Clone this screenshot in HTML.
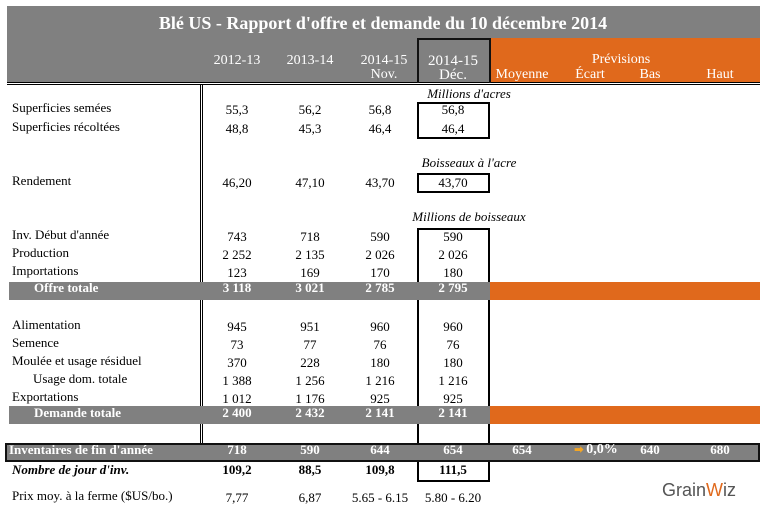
<!DOCTYPE html>
<html><head><meta charset="utf-8">
<style>
body{margin:0;width:760px;height:506px;background:#fff;position:relative;overflow:hidden;font-family:"Liberation Serif",serif;font-size:13px;color:#000}
.a{position:absolute}
.t{position:absolute;white-space:nowrap;line-height:16px;height:16px}
.c{transform:translateX(-50%)}
.w{color:#fff;font-weight:bold}
.i{font-style:italic}
</style></head><body>
<div class="a" style="left:7px;top:6px;width:753px;height:32px;background:#808080"></div>
<div class="t c w" style="left:383px;top:13px;font-size:18px;line-height:20px;height:20px">Blé US - Rapport d'offre et demande du 10 décembre 2014</div>
<div class="a" style="left:7px;top:38px;width:483px;height:45px;background:#808080"></div>
<div class="a" style="left:490px;top:38px;width:270px;height:45px;background:#e0691c"></div>
<div class="a" style="left:7px;top:82px;width:753px;height:1px;border-top:1px solid #000;border-bottom:1px solid #000"></div>
<div class="a" style="left:200px;top:85px;width:1px;height:358px;border-left:1px solid #000;border-right:1px solid #000"></div>
<div class="a" style="left:417px;top:38px;width:70px;height:43px;border:2px solid #111;border-bottom:none"></div>
<div class="a" style="left:417px;top:102px;width:69px;height:33px;border:2px solid #000"></div>
<div class="a" style="left:417px;top:173px;width:69px;height:16px;border:2px solid #000"></div>
<div class="a" style="left:417px;top:228px;width:69px;height:250px;border:2px solid #000;border-bottom:2px solid #000"></div>
<div class="a" style="left:9px;top:282px;width:481px;height:18px;background:#808080"></div>
<div class="a" style="left:490px;top:282px;width:270px;height:18px;background:#e0691c"></div>
<div class="a" style="left:9px;top:406px;width:481px;height:18px;background:#808080"></div>
<div class="a" style="left:490px;top:406px;width:270px;height:18px;background:#e0691c"></div>
<div class="a" style="left:5px;top:443px;width:751px;height:15px;background:#808080;border:2px solid #111"></div>
<div class="t w" style="left:662px;top:480px;font-family:'Liberation Sans',sans-serif;font-size:18px;line-height:20px;height:20px;color:#555;font-weight:normal">Grain<span style="color:#e0691c">W</span>iz</div>
<div id="root"></div>
<script>
const colX=[237,310,380,453,522,590,650,720];
const headers=[["2012-13",0,53],["2013-14",1,53],["2014-15",2,53],["Nov.",2,67],["2014-15",3,53],["Déc.",3,67],["Moyenne",4,67],["Écart",5,67],["Bas",6,67],["Haut",7,67]];
const rowLabels=["Superficies semées","Superficies récoltées","Rendement","Inv. Début d'année","Production","Importations","Offre totale","Alimentation","Semence","Moulée et usage résiduel","Usage dom. totale","Exportations","Demande totale","Inventaires de fin d'année","Nombre de jour d'inv.","Prix moy. à la ferme ($US/bo.)"];
const rowY=[100,119,173,227,245,263,280,317,335,353,371,389,405,442,462,488];
const rowVals=[["55,3","56,2","56,8","56,8"],["48,8","45,3","46,4","46,4"],["46,20","47,10","43,70","43,70"],["743","718","590","590"],["2 252","2 135","2 026","2 026"],["123","169","170","180"],["3 118","3 021","2 785","2 795"],["945","951","960","960"],["73","77","76","76"],["370","228","180","180"],["1 388","1 256","1 216","1 216"],["1 012","1 176","925","925"],["2 400","2 432","2 141","2 141"],["718","590","644","654","654","","640","680"],["109,2","88,5","109,8","111,5"],["7,77","6,87","5.65 - 6.15","5.80 - 6.20"]];
const units=[["Millions d'acres",86],["Boisseaux à l'acre",155],["Millions de boisseaux",209]];
const root=document.body;
function txt(s,x,y,cls){const d=document.createElement('div');d.className='t '+cls;d.textContent=s;d.style.left=x+'px';d.style.top=y+'px';root.appendChild(d);return d;}
headers.forEach(h=>{const d=txt(h[0],colX[h[1]]+(h[1]==2?4:0),h[2],'c');d.style.color='#fff';d.style.fontSize=h[1]==3?'15px':'14px';

});
const pv=txt('Prévisions',621,52,'c');pv.style.color='#fff';pv.style.fontSize='14px';


units.forEach(u=>{const d=txt(u[0],469,u[1],'c i');

});
rowLabels.forEach((l,i)=>{const bold=(i==6||i==12||i==13);let x=12;if(i==6||i==12)x=34;if(i==10)x=33;if(i==13)x=9;
const d=txt(l,x,rowY[i],bold?'w':(i==14?'i':''));if(i==14){d.style.fontWeight='bold';}


rowVals[i].forEach((v,j)=>{if(!v)return;const e=txt(v,colX[j],rowY[i]+(i==15?2:(i<6||(i>6&&i<12)?2:0)),'c'+(bold?' w':''));if(i==14)e.style.fontWeight='bold';

});});
const ec=txt('➡ 0,0%',596,442,'c w');ec.firstChild.textContent='';const ar=document.createElement('span');ar.textContent='➡ ';ar.style.color='#f5a623';ar.style.fontSize='11px';ec.appendChild(ar);ec.appendChild(document.createTextNode('0,0%'));ec.style.fontSize='14px';


</script>
</body></html>
